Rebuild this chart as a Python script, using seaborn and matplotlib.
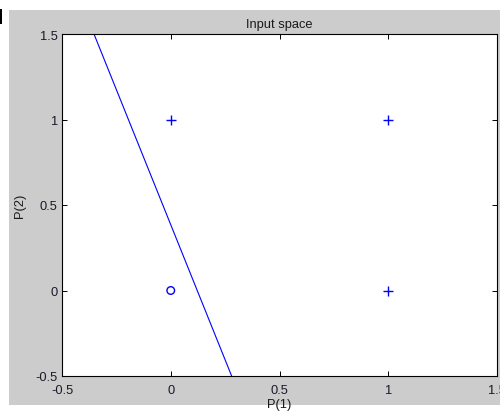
import matplotlib
matplotlib.use("Agg")
import matplotlib.pyplot as plt
import seaborn as sns
import pandas as pd

# Training inputs of the perceptron (columns of P) and their targets
p1 = [0, 0, 1, 1]
p2 = [0, 1, 0, 1]
targets = [0, 1, 1, 1]

# Decision boundary end points across the vertical range
boundary_x = [-0.353, 0.280]
boundary_y = [1.5, -0.5]

x_ticks = [-0.5, 0, 0.5, 1, 1.5]
y_ticks = [-0.5, 0, 0.5, 1, 1.5]
x_tick_labels = ["-0.5", "0", "0.5", "1", "1.5"]
y_tick_labels = ["-0.5", "0", "0.5", "1", "1.5"]

sns.set_style("ticks")
plt.rcParams["font.family"] = ["Liberation Sans", "DejaVu Sans"]
plt.rcParams["font.size"] = 9.3

points = pd.DataFrame({"P1": p1, "P2": p2, "T": targets})
line = pd.DataFrame({"x": boundary_x, "y": boundary_y})

fig = plt.figure(figsize=(5.0, 4.14), dpi=100, facecolor="white")
# grey figure panel, kept behind the axes
fig.patches.append(plt.Rectangle((9 / 500, 1 - 406 / 414), 491 / 500, 395 / 414,
                                 transform=fig.transFigure, facecolor="#cccccc",
                                 edgecolor="none", zorder=-2))
fig.patches.append(plt.Rectangle((0, 1 - 25 / 414), 2 / 500, 15 / 414,
                                 transform=fig.transFigure, facecolor="black",
                                 edgecolor="none", zorder=-2))

ax = fig.add_axes([62 / 500, 1 - 377 / 414, 435 / 500, 342 / 414])
ax.set_facecolor("white")

ones = points[points["T"] == 1]
zeros = points[points["T"] == 0]
sns.scatterplot(data=ones, x="P1", y="P2", marker="+", color="#0000ff",
                s=52, linewidth=1.0, ax=ax, legend=False, zorder=3)
sns.scatterplot(data=zeros, x="P1", y="P2", marker="o", facecolor="none",
                edgecolor="#0000ff", s=30, linewidth=1.0, ax=ax, legend=False,
                zorder=3)
sns.lineplot(data=line, x="x", y="y", color="#0000ff", linewidth=0.8,
             sort=False, estimator=None, ax=ax, legend=False, zorder=2)

ax.set_xlim(-0.5, 1.5)
ax.set_ylim(-0.5, 1.5)
ax.set_xticks(x_ticks)
ax.set_xticklabels(x_tick_labels)
ax.set_yticks(y_ticks)
ax.set_yticklabels(y_tick_labels)
ax.tick_params(direction="in", length=3.5, width=0.7, top=True, right=True,
               colors="black", labelcolor="#1a1a2a", labelsize=9.3, pad=3)
ax.tick_params(axis="x", pad=6)
for s in ax.spines.values():
    s.set_visible(True)
    s.set_linewidth(0.8)
    s.set_color("black")

ax.set_title("Input space", fontsize=9.3, pad=5, color="#1a1a1a")
ax.set_xlabel("P(1)", fontsize=9.3, labelpad=1, color="#1a1a1a")
ax.set_ylabel("P(2)", fontsize=9.3, labelpad=7, color="#1a1a1a")

fig.savefig("out.png", dpi=100, facecolor="white")
